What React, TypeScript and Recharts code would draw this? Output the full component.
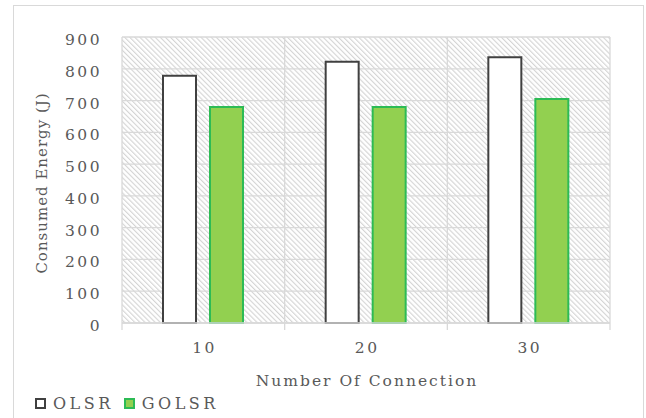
import React from 'react';
import { BarChart, Bar, XAxis, YAxis, CartesianGrid, Label } from 'recharts';

const categories = ['10', '20', '30'];
const olsrValues = [778, 822, 836];
const golsrValues = [680, 680, 705];
const yTicks = [0, 100, 200, 300, 400, 500, 600, 700, 800, 900];
const boundaryTicks = [0, 1, 2, 3];

const series = [
  { key: 'OLSR', fill: '#ffffff', stroke: '#404040' },
  { key: 'GOLSR', fill: '#92d050', stroke: '#2dbb55' },
];

const data = categories.map((c, i) => ({ conn: c, pos: i + 0.5, OLSR: olsrValues[i], GOLSR: golsrValues[i] }));

const FONT = '"DejaVu Serif", serif';
const TXT = '#595959';
const GRID = '#d9d9d9';

const YTick = (props: any) => {
  const { x, y, payload } = props;
  return (
    <text x={x - 20} y={y} dy={8} textAnchor="end" fill={TXT} fontSize={15.5} fontFamily={FONT} letterSpacing={2.5}>
      {payload.value}
    </text>
  );
};

const XTick = (props: any) => {
  const { x, y, payload } = props;
  return (
    <text x={x + 1.2} y={y} dy={29} textAnchor="middle" fill={TXT} fontSize={15.5} fontFamily={FONT} letterSpacing={2.5}>
      {payload.value}
    </text>
  );
};

export default function App() {
  return (
    <div style={{ position: 'absolute', left: 0, top: 0, width: 646, height: 418, overflow: 'hidden', background: '#fff' }}>
      <div
        style={{
          position: 'absolute',
          left: 13,
          top: 5,
          width: 631,
          height: 440,
          boxSizing: 'border-box',
          border: `1px solid ${GRID}`,
        }}
      />
      <div style={{ position: 'absolute', left: 0, top: 0 }}>
        <BarChart
          width={646}
          height={418}
          data={data}
          margin={{ top: 37, right: 36, left: 0, bottom: 25 }}
          barSize={33}
          barGap={14}
        >
          <defs>
            <pattern id="hatch" width="3.6" height="3.6" patternUnits="userSpaceOnUse" patternTransform="rotate(-45)">
              <rect width="3.6" height="3.6" fill="#ffffff" />
              <line x1="0.6" y1="0" x2="0.6" y2="3.6" stroke="#cfcfcf" strokeWidth="1" />
            </pattern>
          </defs>
          <CartesianGrid
            xAxisId={0}
            stroke={GRID}
            strokeWidth={1.3}
            fill="url(#hatch)"
            fillOpacity={1}
          />
          <XAxis
            xAxisId={0}
            dataKey="pos"
            type="number"
            domain={[0, 3]}
            ticks={boundaryTicks}
            interval={0}
            height={1}
            tick={() => <g />}
            tickSize={7}
            tickLine={{ stroke: GRID, strokeWidth: 1.3 }}
            axisLine={{ stroke: GRID, strokeWidth: 1.3 }}
            allowDataOverflow
          />
          <XAxis
            xAxisId="cat"
            dataKey="conn"
            height={69}
            axisLine={false}
            tickLine={false}
            tickSize={0}
            tickMargin={0}
            tick={<XTick />}
          >
            <Label
              content={(p: any) => {
                const vb = p.viewBox;
                return (
                  <text
                    x={vb.x + vb.width / 2 + 1}
                    y={vb.y + 62}
                    textAnchor="middle"
                    fill={TXT}
                    fontSize={15.5}
                    fontFamily={FONT}
                    letterSpacing={2}
                  >
                    Number Of Connection
                  </text>
                );
              }}
            />
          </XAxis>
          <YAxis
            width={122}
            domain={[0, 900]}
            ticks={yTicks}
            axisLine={false}
            tickLine={false}
            tickSize={0}
            tickMargin={0}
            tick={<YTick />}
          >
            <Label
              content={(p: any) => {
                const vb = p.viewBox;
                const cy = vb.y + vb.height / 2 + 3;
                return (
                  <text
                    transform={`translate(47, ${cy}) rotate(-90)`}
                    textAnchor="middle"
                    fill={TXT}
                    fontSize={15}
                    fontFamily={FONT}
                    letterSpacing={1}
                  >
                    Consumed Energy (J)
                  </text>
                );
              }}
            />
          </YAxis>
          {series.map((s) => (
            <Bar
              key={s.key}
              xAxisId="cat"
              dataKey={s.key}
              fill={s.fill}
              stroke={s.stroke}
              strokeWidth={2}
              isAnimationActive={false}
            />
          ))}
        </BarChart>
      </div>
      <div
        style={{
          position: 'absolute',
          left: 35,
          top: 393,
          height: 20,
          display: 'flex',
          alignItems: 'center',
          fontFamily: FONT,
          fontSize: 16,
          letterSpacing: 3.5,
          color: TXT,
        }}
      >
        {series.map((s) => (
          <div key={s.key} style={{ display: 'flex', alignItems: 'center', marginRight: 10 }}>
            <div
              style={{
                width: 11,
                height: 11,
                boxSizing: 'border-box',
                border: `2px solid ${s.stroke}`,
                background: s.fill,
                marginRight: 7,
              }}
            />
            <span>{s.key}</span>
          </div>
        ))}
      </div>
    </div>
  );
}
